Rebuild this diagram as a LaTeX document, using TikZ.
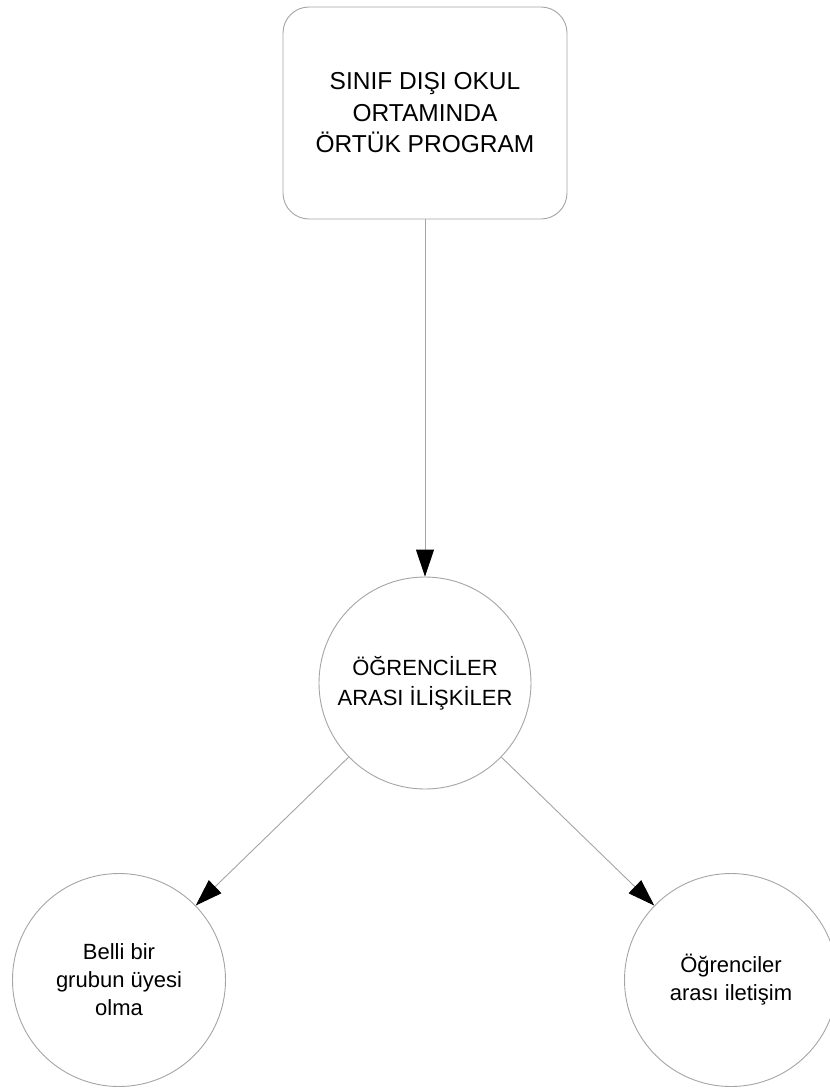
\documentclass[tikz,border=0pt]{standalone}
\usepackage{fontspec}
\setmainfont{Liberation Sans}
\usetikzlibrary{arrows.meta}
\definecolor{edgegray}{RGB}{165,165,165}
\tikzset{
  boxnode/.style={draw=edgegray, line width=0.9pt, rounded corners=26pt, minimum width=284pt, minimum height=212pt, align=center, inner sep=0pt, font=\fontsize{24.5}{31.5}\selectfont},
  bigcirc/.style={draw=edgegray, line width=0.9pt, circle, minimum size=212pt, align=center, inner sep=0pt, font=\fontsize{22}{30}\selectfont},
  smallcirc/.style={draw=edgegray, line width=0.9pt, circle, minimum size=213pt, align=center, inner sep=0pt, font=\fontsize{22}{28}\selectfont},
  conn/.style={draw=edgegray, line width=0.9pt, -{Triangle[length=27pt, width=18pt, fill=black, color=black]}}
}
\begin{document}
\begin{tikzpicture}[x=1pt, y=-1pt]
\useasboundingbox[fill=white] (0,0) rectangle (830,1088);
\node[boxnode] (top) at (425,113) {SINIF DIŞI OKUL\\ORTAMINDA\\ÖRTÜK PROGRAM};
\node[bigcirc] (mid) at (425,683) {ÖĞRENCİLER\\ARASI İLİŞKİLER};
\node[smallcirc] (left) at (119,980) {Belli bir\\grubun üyesi\\olma};
\node[smallcirc] (right) at (731,980) {Öğrenciler\\arası iletişim};
\draw[conn] (top.south) -- (mid.north);
\draw[conn] (mid) -- (left);
\draw[conn] (mid) -- (right);
\end{tikzpicture}
\end{document}
